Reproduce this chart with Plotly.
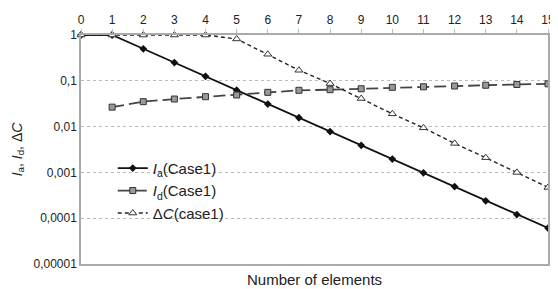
import plotly.graph_objects as go

elements = list(range(16))
ia_case1 = [1, 1, 0.5, 0.25, 0.125, 0.0625, 0.031, 0.0156, 0.0078, 0.0039,
            0.00195, 0.00098, 0.00049, 0.00024, 0.00012, 0.000061]
id_x = list(range(1, 16))
id_case1 = [0.0266, 0.035, 0.040, 0.045, 0.049, 0.056, 0.062, 0.064, 0.067,
            0.072, 0.074, 0.077, 0.080, 0.083, 0.086]
dc_case1 = [1, 1, 1, 1, 1, 0.82, 0.38, 0.17, 0.087, 0.041, 0.019, 0.0094,
            0.0043, 0.0021, 0.001, 0.00047]
ytick_vals = [1, 0.1, 0.01, 0.001, 0.0001, 0.00001]
ytick_text = ["1", "0,1", "0,01", "0,001", "0,0001", "0,00001"]

fig = go.Figure()
fig.add_trace(go.Scatter(
    x=elements, y=ia_case1, mode="lines+markers",
    name="<i>I</i><sub>a</sub>(Case1)",
    line=dict(color="#111111", width=1.8),
    marker=dict(symbol="diamond", size=6, color="#111111"),
    cliponaxis=False))
fig.add_trace(go.Scatter(
    x=id_x, y=id_case1, mode="lines+markers",
    name="<i>I</i><sub>d</sub>(Case1)",
    line=dict(color="#444444", width=1.8, dash="12px,5px"),
    marker=dict(symbol="square", size=6, color="#999999",
                line=dict(color="#333333", width=1)),
    cliponaxis=False))
fig.add_trace(go.Scatter(
    x=elements, y=dc_case1, mode="lines+markers",
    name="Δ<i>C</i>(case1)",
    line=dict(color="#222222", width=1.4, dash="4px,3px"),
    marker=dict(symbol="triangle-up", size=7, color="white",
                line=dict(color="#333333", width=1)),
    cliponaxis=False))

fig.update_layout(
    width=550, height=281,
    margin=dict(l=73, r=10, t=27, b=25),
    paper_bgcolor="white", plot_bgcolor="white",
    font=dict(family="Liberation Sans, Arial, sans-serif", size=12, color="#222222"),
    showlegend=True,
    legend=dict(x=0.068, y=0.49, xanchor="left", yanchor="top",
                bgcolor="rgba(0,0,0,0)", font=dict(size=15),
                tracegroupgap=0),
)
fig.update_xaxes(
    range=[0, 15], side="top", tickvals=elements,
    ticks="outside", ticklen=4, tickcolor="#bbbbbb",
    showline=True, linecolor="#aaaaaa", linewidth=1.5, mirror=True,
    showgrid=False, zeroline=False, automargin=False,
    title=None,
)
fig.update_yaxes(
    type="log", range=[-5, 0], tickvals=ytick_vals, ticktext=ytick_text,
    showline=True, linecolor="#aaaaaa", linewidth=1.5, mirror=True,
    showgrid=True, gridcolor="#bbbbbb", griddash="dot", gridwidth=1,
    ticks="", zeroline=False, automargin=False,
    title=dict(text="<i>I</i><sub>a</sub>, <i>I</i><sub>d</sub>, Δ<i>C</i>",
               font=dict(size=14), standoff=8),
)
fig.add_annotation(
    text="Number of elements", xref="paper", yref="paper",
    x=0.5, y=0, yshift=-15, xanchor="center", yanchor="middle",
    showarrow=False, font=dict(size=15))

fig.write_html("out.html")
